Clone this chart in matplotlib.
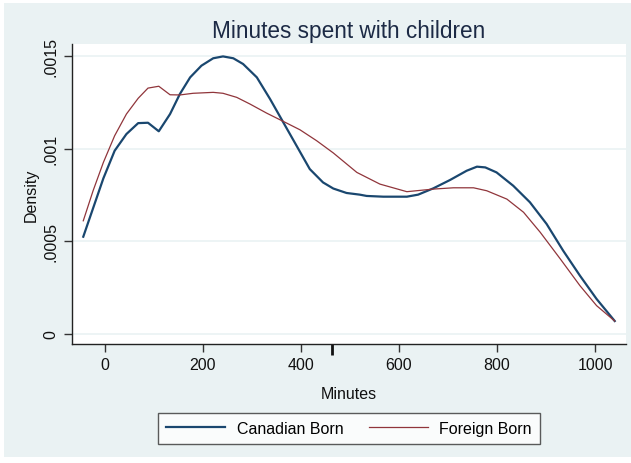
import matplotlib
matplotlib.use("Agg")
import matplotlib.pyplot as plt
from matplotlib.patches import Rectangle

plt.rcParams['font.family'] = ['Liberation Sans', 'DejaVu Sans']

# Densidad de minutos con hijos
min_canad = [-44, -3, 20, 44, 68, 88, 110, 133, 153, 174, 197, 221, 241, 262, 282,
             310, 337, 364, 391, 418, 445, 466, 493, 520, 534, 568, 616, 639, 670,
             704, 738, 759, 776, 799, 833, 867, 901, 935, 969, 1003, 1040]
dens_canad = [0.000525, 0.000840, 0.000989, 0.001079, 0.001138, 0.001140, 0.001094,
              0.001187, 0.001295, 0.001385, 0.001448, 0.001488, 0.001498, 0.001488,
              0.001457, 0.001385, 0.001268, 0.001142, 0.001016, 0.000890, 0.000818,
              0.000785, 0.000761, 0.000752, 0.000745, 0.000741, 0.000741, 0.000752,
              0.000786, 0.000831, 0.000881, 0.000903, 0.000899, 0.000872, 0.000800,
              0.000711, 0.000594, 0.000449, 0.000315, 0.000189, 0.000070]

min_extr = [-44, -24, -3, 20, 44, 68, 88, 110, 133, 153, 180, 221, 241, 269, 296,
            330, 371, 398, 432, 466, 514, 561, 616, 670, 711, 752, 779, 820, 854,
            888, 929, 969, 1003, 1040]
dens_extr = [0.000611, 0.000773, 0.000926, 0.001070, 0.001187, 0.001272, 0.001327,
             0.001337, 0.001291, 0.001290, 0.001299, 0.001304, 0.001299, 0.001277,
             0.001241, 0.001192, 0.001138, 0.001102, 0.001043, 0.000977, 0.000872,
             0.000809, 0.000768, 0.000782, 0.000789, 0.000789, 0.000773, 0.000728,
             0.000657, 0.000549, 0.000405, 0.000261, 0.000153, 0.000070]

xticks = [0, 200, 400, 600, 800, 1000]
yticks = [0, 0.0005, 0.001, 0.0015]
yticklabels = ['0', '.0005', '.001', '.0015']
marca_x = 463

fondo = '#eaf2f3'
azul = '#1a476f'
rojo = '#90353b'

fig = plt.figure(figsize=(6.31, 4.64), dpi=100, facecolor='white')
fig.patches.append(Rectangle((4 / 631, 6 / 464), 627 / 631, 454 / 464,
                             transform=fig.transFigure, facecolor=fondo,
                             edgecolor='none', zorder=-10))

ax = fig.add_axes([72 / 631, 1 - 345 / 464, 554 / 631, 300 / 464])
ax.set_facecolor('white')

ax.plot(min_canad, dens_canad, color=azul, lw=1.6, label='Canadian Born', zorder=3)
ax.plot(min_extr, dens_extr, color=rojo, lw=0.9, label='Foreign Born', zorder=3)

ax.set_xlim(-67, 1063)
ax.set_ylim(-0.000054, 0.001565)

ax.set_xticks(xticks)
ax.set_yticks(yticks)
ax.set_yticklabels(yticklabels, rotation=90, va='center')
ax.set_xticks([marca_x], minor=True)
ax.tick_params(axis='both', which='major', labelsize=11.5, length=6, width=1,
               color='#333333', labelcolor='#111111')
ax.tick_params(axis='x', which='minor', length=8, width=2, color='#111111')
ax.tick_params(axis='y', pad=4)

ax.grid(True, axis='y', color=fondo, lw=1.2, zorder=1)
for lado in ['top', 'right']:
    ax.spines[lado].set_visible(False)
for lado in ['left', 'bottom']:
    ax.spines[lado].set_color('#222222')
    ax.spines[lado].set_linewidth(1)

ax.set_title('Minutes spent with children', fontsize=16.3, color='#1c2a45', pad=5)
ax.set_xlabel('Minutes', fontsize=11.5, color='#111111', labelpad=10)
ax.set_ylabel('Density', fontsize=11.5, color='#111111', labelpad=3)

leg = fig.legend(loc='center', bbox_to_anchor=(349 / 631, 1 - 429.5 / 464), ncol=2,
                 fontsize=11.5, frameon=True, fancybox=False, handlelength=3.7,
                 handletextpad=0.7, columnspacing=1.6, borderpad=0.5)
leg.get_frame().set_edgecolor('#333333')
leg.get_frame().set_linewidth(1)
leg.get_frame().set_facecolor('white')

fig.savefig('out.png', dpi=100, facecolor=fig.get_facecolor())
